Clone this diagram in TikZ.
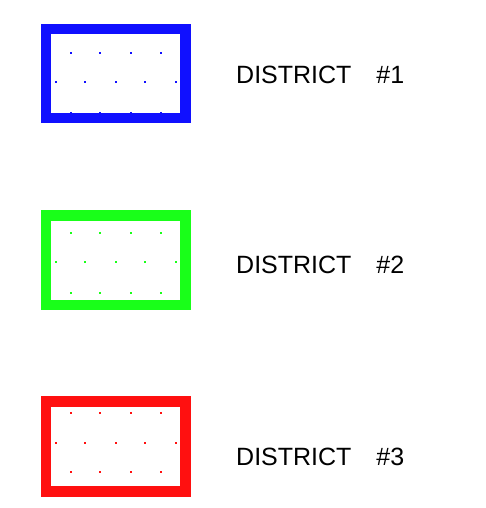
\documentclass[tikz,border=0pt]{standalone}
\usepackage{fontspec}
\setmainfont{Liberation Sans}
\definecolor{dblue}{RGB}{16,16,255}
\definecolor{dgreen}{RGB}{25,255,25}
\definecolor{dred}{RGB}{255,16,16}
\begin{document}
\begin{tikzpicture}[x=1pt,y=-1pt,
  frame/.style={line width=10.5pt, line join=miter},
  dotmark/.style={minimum size=2.2pt, inner sep=0pt, outer sep=0pt},
  label/.style={anchor=base west, inner sep=0pt, font=\fontsize{25}{25}\selectfont}]
\useasboundingbox (0,0) rectangle (485,508);
\fill[white] (0,0) rectangle (485,508);
% boxes
\foreach \col/\top/\bot/\ra/\rb/\rc/\name/\txt/\base in
  {dblue/29/118/52.7/82.3/112.7/one/1/83.3,
   dgreen/215.5/305/232.7/262.3/292.7/two/2/273,
   dred/401.3/491.3/412.7/442.7/472.3/three/3/465}{
  \draw[frame, draw=\col] (46,\top) rectangle (185.3,\bot);
  \foreach \x in {70.7,100.3,130.7,160.7}{
    \node[dotmark, fill=\col] at (\x,\ra) {};
    \node[dotmark, fill=\col] at (\x,\rc) {};
  }
  \foreach \x in {55.7,85.3,115.7,145.3,175.7}{
    \node[dotmark, fill=\col] at (\x,\rb) {};
  }
  \node[label] (lab\name) at (236,\base) {DISTRICT\hspace{25pt}\#\txt};
}
\end{tikzpicture}
\end{document}
